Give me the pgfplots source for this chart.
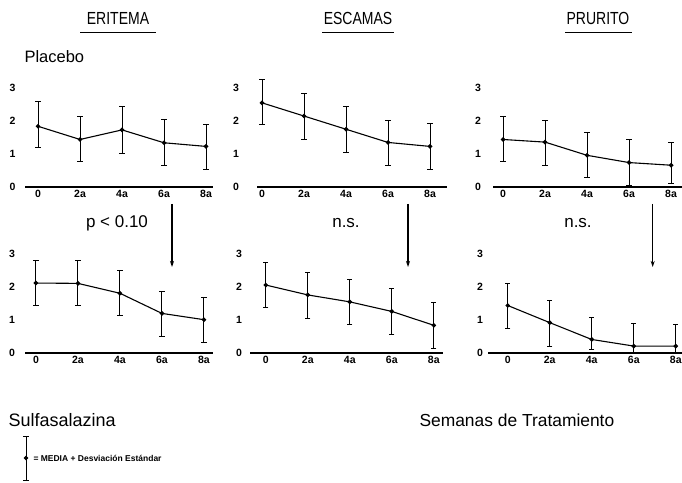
\documentclass[border=0pt]{standalone}
\usepackage{fontspec}
\setmainfont{Liberation Sans}
\newfontfamily\narrowsans[FakeStretch=0.8]{Liberation Sans}
\usepackage{pgfplots}
\pgfplotsset{compat=1.18}
\usepackage{pgfplotstable}
\usetikzlibrary{arrows.meta}

% semana, media, +DE, -DE
\pgfplotstableread{
x y ep em
0 1.84 0.76 0.64
2 1.44 0.71 0.68
4 1.73 0.70 0.70
6 1.34 0.72 0.69
8 1.23 0.67 0.71
}\plaEri
\pgfplotstableread{
x y ep em
0 2.55 0.70 0.66
2 2.15 0.68 0.70
4 1.75 0.70 0.69
6 1.35 0.67 0.70
8 1.23 0.69 0.70
}\plaEsc
\pgfplotstableread{
x y ep em
0 1.44 0.69 0.66
2 1.36 0.67 0.70
4 0.96 0.69 0.68
6 0.74 0.69 0.70
8 0.66 0.69 0.55
}\plaPru
\pgfplotstableread{
x y ep em
0 2.12 0.68 0.69
2 2.11 0.68 0.68
4 1.81 0.68 0.67
6 1.20 0.67 0.69
8 1.01 0.66 0.70
}\sulEri
\pgfplotstableread{
x y ep em
0 2.06 0.68 0.69
2 1.76 0.67 0.71
4 1.55 0.69 0.69
6 1.26 0.68 0.70
8 0.84 0.68 0.69
}\sulEsc
\pgfplotstableread{
x y ep em
0 1.44 0.67 0.69
2 0.92 0.67 0.71
4 0.41 0.67 0.31
6 0.21 0.68 0.19
8 0.21 0.65 0.21
}\sulPru

\newcommand\tickfont{\fontsize{10.5}{12}\selectfont\bfseries}

\pgfplotsset{
  panel/.style={
    scale only axis, anchor=south west, clip=false,
    axis x line=bottom, axis y line=left,
    axis line style={-}, y axis line style={draw=none},
    x axis line style={line width=1.4pt},
    ymin=0, ymax=3.3, height=108.9pt,
    xtick={0,2,4,6,8}, xticklabels={0,2a,4a,6a,8a},
    ytick={0,1,2,3}, yticklabels={0,1,2,3},
    major tick length=0pt, tick style={draw=none},
    ticklabel style={font=\tickfont},
  },
  serie/.style={
    black, line width=1.1pt, mark=*, mark size=1.7pt,
    error bars/.cd, y dir=both, y explicit, error mark=-,
    error mark options={rotate=90, line width=1pt, mark size=2.6pt, black},
    error bar style={line width=1pt, black},
  },
}

\begin{document}
\begin{tikzpicture}
\path[use as bounding box] (0pt,0pt) rectangle (682pt,482pt);

% fila superior: placebo
\begin{axis}[panel, at={(25pt,295pt)}, xmin=-0.62, xmax=8.33, width=187.95pt,
  yticklabel style={xshift=-6pt}]
\addplot[serie] table[x=x, y=y, y error plus=ep, y error minus=em] {\plaEri};
\end{axis}
\begin{axis}[panel, at={(257pt,295pt)}, xmin=-0.24, xmax=8.81, width=190.05pt,
  yticklabel style={xshift=-14.5pt}]
\addplot[serie] table[x=x, y=y, y error plus=ep, y error minus=em] {\plaEsc};
\end{axis}
\begin{axis}[panel, at={(493pt,295pt)}, xmin=-0.48, xmax=8.52, width=189pt,
  yticklabel style={xshift=-8.5pt}]
\addplot[serie] table[x=x, y=y, y error plus=ep, y error minus=em] {\plaPru};
\end{axis}

% fila inferior: sulfasalazina
\begin{axis}[panel, at={(25pt,129pt)}, xmin=-0.52, xmax=8.43, width=187.95pt,
  yticklabel style={xshift=-6.5pt}]
\addplot[serie] table[x=x, y=y, y error plus=ep, y error minus=em] {\sulEri};
\end{axis}
\begin{axis}[panel, at={(250pt,129pt)}, xmin=-0.75, xmax=8.44, width=192.99pt,
  yticklabel style={xshift=-4.5pt}]
\addplot[serie] table[x=x, y=y, y error plus=ep, y error minus=em] {\sulEsc};
\end{axis}
\begin{axis}[panel, at={(488pt,129pt)}, xmin=-0.94, xmax=8.3, width=194.04pt,
  yticklabel style={xshift=-1.5pt}]
\addplot[serie] table[x=x, y=y, y error plus=ep, y error minus=em] {\sulPru};
\end{axis}

% leyenda
\begin{axis}[hide axis, scale only axis, anchor=south west, at={(21pt,2pt)},
  width=10pt, height=44pt, xmin=-1, xmax=1, ymin=-1, ymax=1, clip=false]
\addplot[serie] coordinates {(0,0) +- (0,1)};
\end{axis}

\begin{scope}[x=1pt, y=1pt]
\node[anchor=west, font=\fontsize{8.5}{10}\selectfont\bfseries] at (30,24)
  {= MEDIA + Desviación Estándar};

% titulos
\foreach \cx/\t/\a/\b in {118/ERITEMA/80/156, 358/ESCAMAS/322/394, 598/PRURITO/565/632}{
  \node[font=\narrowsans\fontsize{17.5}{20}\selectfont] at (\cx,464) {\t};
  \draw[line width=1pt] (\a,449) -- (\b,449);
}
\node[anchor=west, font=\fontsize{16.5}{19}\selectfont] at (21,425) {Placebo};
\node[font=\fontsize{17}{20}\selectfont] at (117,259) {p < 0.10};
\node[font=\fontsize{17}{20}\selectfont] at (346,259) {n.s.};
\node[font=\fontsize{17}{20}\selectfont] at (578,259) {n.s.};
\node[anchor=west, font=\fontsize{18}{21}\selectfont] at (5,62) {Sulfasalazina};
\node[anchor=west, font=\fontsize{17.4}{20}\selectfont] at (416,62) {Semanas de Tratamiento};

% flechas
\foreach \ax in {172,408,652.7}{
  \draw[line width=1.1pt, -{Stealth[length=6pt,width=4pt]}] (\ax,278) -- (\ax,215);
}
\end{scope}
\end{tikzpicture}
\end{document}
